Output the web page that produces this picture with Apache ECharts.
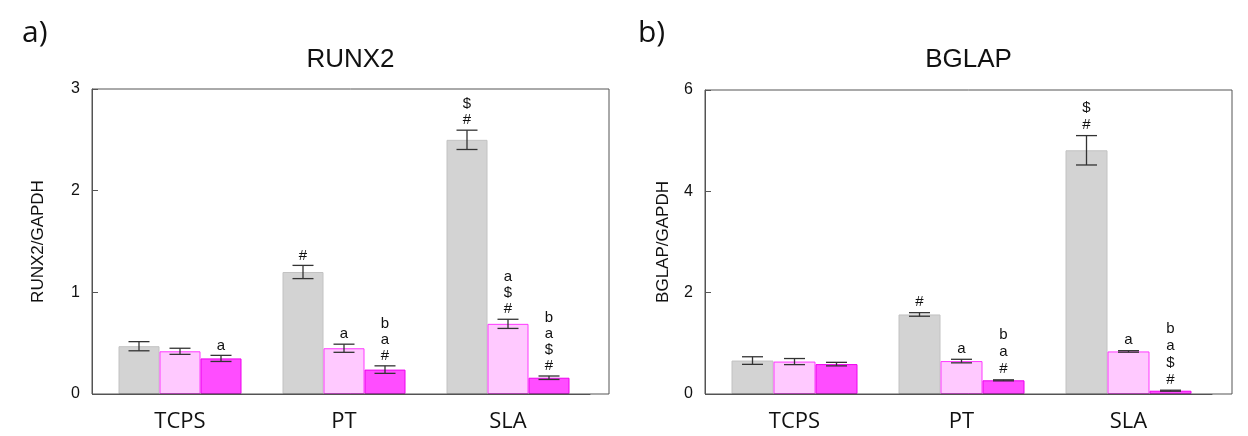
<!DOCTYPE html>
<html>
<head>
<meta charset="utf-8">
<script src="https://cdn.jsdelivr.net/npm/echarts@6/dist/echarts.min.js"></script>
<style>
html,body{margin:0;padding:0;background:#fff;}
#c{width:1248px;height:436px;}
</style>
</head>
<body>
<div id="c"></div>
<script>
// ---- data ----
var categories = ['TCPS', 'PT', 'SLA'];

var runxGray = [0.47, 1.20, 2.50];
var runxGrayErr = [0.045, 0.065, 0.095];
var runxLight = [0.42, 0.45, 0.69];
var runxLightErr = [0.03, 0.04, 0.045];
var runxMag = [0.35, 0.24, 0.16];
var runxMagErr = [0.03, 0.037, 0.017];
var runxGrayLbl = ['', '#', '$\n#'];
var runxLightLbl = ['', 'a', 'a\n$\n#'];
var runxMagLbl = ['a', 'b\na\n#', 'b\na\n$\n#'];

var bglapGray = [0.66, 1.57, 4.81];
var bglapGrayErr = [0.075, 0.035, 0.29];
var bglapLight = [0.64, 0.65, 0.84];
var bglapLightErr = [0.06, 0.035, 0.015];
var bglapMag = [0.59, 0.27, 0.065];
var bglapMagErr = [0.035, 0.01, 0.01];
var bglapGrayLbl = ['', '#', '$\n#'];
var bglapLightLbl = ['', 'a', 'a'];
var bglapMagLbl = ['', 'b\na\n#', 'b\na\n$\n#'];

var runxTicks = [0, 1, 2, 3];
var bglapTicks = [0, 2, 4, 6];

// ---- styles ----
var styles = [
  {color: '#d3d3d3', borderColor: '#c2c2c2', borderWidth: 1},
  {color: '#ffc9ff', borderColor: '#ff38ff', borderWidth: 1},
  {color: '#ff4dff', borderColor: '#ee00ee', borderWidth: 1}
];

var chart = echarts.init(document.getElementById('c'), null, {renderer: 'canvas'});

function errSeries(gridIdx, vals, errs, lbls, k, bw, lh) {
  var data = vals.map(function (v, i) { return [i, v, errs[i]]; });
  return {
    type: 'custom',
    xAxisIndex: gridIdx * 2, yAxisIndex: gridIdx * 2,
    data: data,
    z: 5,
    encode: {x: 0, y: 1},
    renderItem: function (params, api) {
      var ci = api.value(0), v = api.value(1), e = api.value(2);
      var c = api.coord([ci, v]);
      var x = c[0] + (k - 1) * bw;
      var yt = api.coord([ci, v + e])[1];
      var yb = api.coord([ci, v - e])[1];
      var hw = 10.5;
      var st = {stroke: '#333', lineWidth: 1.3};
      var children = [
        {type: 'line', shape: {x1: x, y1: yt, x2: x, y2: yb}, style: st},
        {type: 'line', shape: {x1: x - hw, y1: yt, x2: x + hw, y2: yt}, style: st},
        {type: 'line', shape: {x1: x - hw, y1: yb, x2: x + hw, y2: yb}, style: st}
      ];
      var t = lbls[params.dataIndex];
      if (t) {
        children.push({
          type: 'text',
          style: {
            text: t, x: x, y: yt - 2,
            textAlign: 'center', textVerticalAlign: 'bottom',
            font: '15px "Liberation Sans", Arial, sans-serif',
            lineHeight: lh, fill: '#111'
          }
        });
      }
      return {type: 'group', children: children};
    }
  };
}

function barSeries(gridIdx, vals, k, bw) {
  return {
    type: 'bar',
    xAxisIndex: gridIdx * 2, yAxisIndex: gridIdx * 2,
    data: vals,
    barWidth: bw,
    barGap: '0%',
    itemStyle: styles[k],
    z: 3,
    animation: false
  };
}

var G = [
  {left: 98, top: 89, width: 492, height: 305, frameLeft: 92, frameWidth: 517, max: 3, interval: 1, name: 'RUNX2/GAPDH', nameGap: 45, bw: 41, lh: 16},
  {left: 711, top: 90, width: 501, height: 304, frameLeft: 705, frameWidth: 527, max: 6, interval: 2, name: 'BGLAP/GAPDH', nameGap: 33, bw: 42, lh: 17}
];

var grids = [], xAxes = [], yAxes = [];
G.forEach(function (g, gi) {
  // data grid
  grids.push({left: g.left, top: g.top, width: g.width, height: g.height, containLabel: false});
  xAxes.push({
    type: 'category', gridIndex: gi * 2, data: categories,
    axisLine: {show: true, lineStyle: {color: '#555', width: 1}},
    axisTick: {show: false},
    axisLabel: {color: '#111', fontFamily: '"Open Sans", sans-serif', fontSize: 22, lineHeight: 22, margin: 17}
  });
  yAxes.push({
    type: 'value', gridIndex: gi * 2, min: 0, max: g.max, interval: g.interval, offset: 6,
    axisLine: {show: true, lineStyle: {color: '#555', width: 1}},
    axisTick: {show: true, inside: true, length: 6, lineStyle: {color: '#555'}},
    splitLine: {show: false},
    axisLabel: {color: '#111', fontFamily: '"Liberation Sans", Arial, sans-serif', fontSize: 16, margin: 12},
    name: g.name, nameLocation: 'middle', nameGap: g.nameGap, nameRotate: 90,
    nameTextStyle: {color: '#111', fontFamily: '"Liberation Sans", Arial, sans-serif', fontSize: 17}
  });
  // frame grid
  grids.push({left: g.frameLeft, top: g.top, width: g.frameWidth, height: g.height, show: true,
    borderColor: '#555', borderWidth: 1, backgroundColor: 'transparent', z: 4});
  xAxes.push({type: 'value', gridIndex: gi * 2 + 1, show: false, min: 0, max: 1});
  yAxes.push({type: 'value', gridIndex: gi * 2 + 1, show: false, min: 0, max: 1});
});

var R = [[runxGray, runxLight, runxMag], [bglapGray, bglapLight, bglapMag]];
var RE = [[runxGrayErr, runxLightErr, runxMagErr], [bglapGrayErr, bglapLightErr, bglapMagErr]];
var RL = [[runxGrayLbl, runxLightLbl, runxMagLbl], [bglapGrayLbl, bglapLightLbl, bglapMagLbl]];

var series = [];
[0, 1].forEach(function (gi) {
  for (var k = 0; k < 3; k++) series.push(barSeries(gi, R[gi][k], k, G[gi].bw));
  for (var k2 = 0; k2 < 3; k2++) series.push(errSeries(gi, R[gi][k2], RE[gi][k2], RL[gi][k2], k2, G[gi].bw, G[gi].lh));
});

var option = {
  backgroundColor: '#fff',
  animation: false,
  grid: grids,
  xAxis: xAxes,
  yAxis: yAxes,
  series: series,
  graphic: [
    {type: 'text', left: 22, top: 18, style: {text: 'a)', font: '30px "Open Sans", sans-serif', fill: '#111'}},
    {type: 'text', left: 638, top: 18, style: {text: 'b)', font: '30px "Open Sans", sans-serif', fill: '#111'}},
    {type: 'text', x: 350.5, y: 60, style: {text: 'RUNX2', font: '26px "Liberation Sans", Arial, sans-serif', fill: '#111', textAlign: 'center', textVerticalAlign: 'middle'}},
    {type: 'text', x: 968.5, y: 60, style: {text: 'BGLAP', font: '26px "Liberation Sans", Arial, sans-serif', fill: '#111', textAlign: 'center', textVerticalAlign: 'middle'}}
  ]
};
chart.setOption(option);
</script>
</body>
</html>
